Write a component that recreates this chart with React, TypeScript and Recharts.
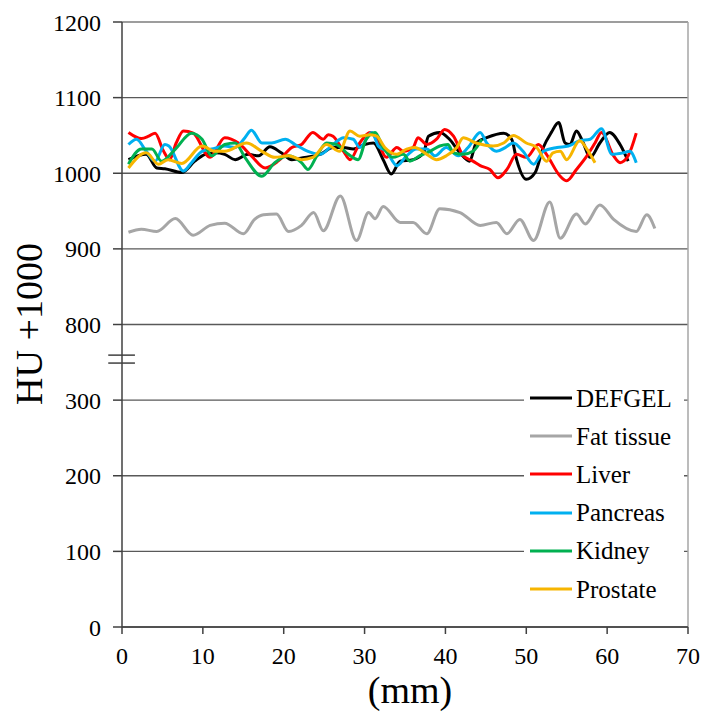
import { LineChart, Line, XAxis, YAxis, CartesianGrid, ReferenceLine, Legend, Label } from "recharts";

const SERIF = '"Liberation Serif", "Times New Roman", serif';

// [mm, HU+1000]
const defgel: [number, number][] = [
  [0.8, 1018], [3, 1025], [4.3, 1007], [5.3, 1006], [7.4, 1001], [9, 1016], [10.3, 1025], [11.5, 1027],
  [12.7, 1025], [14, 1018], [15.6, 1025], [16.9, 1023], [18.3, 1035], [19.7, 1027], [21, 1018], [22.6, 1021],
  [24.5, 1025], [26.1, 1034], [27.4, 1034], [28.6, 1032], [30, 1038], [31.1, 1040], [32.3, 1018], [33.3, 999],
  [34.4, 1016], [36, 1018], [37.3, 1027], [37.9, 1049], [39.3, 1054], [40.5, 1045], [41.8, 1027], [43, 1016],
  [43.8, 1040], [45.1, 1047], [47.2, 1053], [48.2, 1045], [48.8, 1018], [50, 992], [51.1, 1001], [52.1, 1034],
  [53.1, 1054], [54, 1067], [54.8, 1040], [55.4, 1038], [56.2, 1056], [57.05, 1040], [57.9, 1021], [59.1, 1040],
  [60.3, 1054], [61.6, 1038], [62.6, 1016],
];

const fatTissue: [number, number][] = [
  [0.8, 922], [2.4, 926], [4.3, 923], [6.6, 940], [8.8, 918], [10.9, 931], [12.7, 934], [15, 920],
  [16.4, 939], [17.5, 945], [19.1, 946], [20.6, 923], [22.2, 931], [23.7, 948], [24.9, 924], [27, 970],
  [29, 911], [30.5, 948], [31.3, 940], [32.3, 956], [34.4, 935], [36, 935], [37.7, 920], [39.3, 953],
  [41.8, 948], [44.3, 931], [46.3, 935], [47.6, 920], [49.2, 939], [50.9, 911], [52.9, 962], [54.2, 914],
  [56.2, 946], [57.3, 933], [59.1, 958], [60.8, 939], [63.6, 923], [64.9, 945], [65.9, 927],
];

const liver: [number, number][] = [
  [0.8, 1054], [2.4, 1046], [3.3, 1049], [4.1, 1053], [5.1, 1030], [5.9, 1018], [6.7, 1040], [7.6, 1056],
  [8.8, 1053], [10.9, 1021], [12.7, 1047], [14.4, 1040], [16, 1023], [17.7, 1007], [19.3, 1016], [21, 1034],
  [22.2, 1038], [23.6, 1054], [24.9, 1045], [25.5, 1051], [26.1, 1049], [27.4, 1029], [28.2, 1018], [29.4, 1040],
  [30.7, 1054], [31.5, 1045], [32.7, 1021], [34, 1034], [34.8, 1029], [36, 1034], [36.6, 1047], [37.7, 1038],
  [38.9, 1045], [39.9, 1058], [41, 1049], [42.2, 1023], [43.4, 1016], [44.3, 1010], [45.5, 1005], [46.5, 994],
  [47.6, 1005], [48.8, 1025], [50, 1021], [51.5, 1038], [52.5, 1025], [54.2, 996], [55, 990], [56.2, 1005],
  [57.5, 1023], [58.5, 1040], [59.3, 1054], [60.8, 1023], [61.6, 1014], [62.6, 1023], [63.6, 1053],
];

const pancreas: [number, number][] = [
  [0.8, 1038], [1.8, 1045], [3, 1029], [4.1, 1016], [5.3, 1038], [5.8, 1036], [7.6, 1003], [8.6, 1014],
  [9.9, 1029], [11.1, 1032], [12.7, 1036], [14, 1034], [15.2, 1047], [16, 1057], [17.3, 1040], [18.5, 1040],
  [20.2, 1045], [21.4, 1038], [23, 1029], [24.5, 1025], [26.1, 1038], [27.4, 1047], [28.6, 1045], [29.4, 1034],
  [30.9, 1054], [31.7, 1036], [32.7, 1029], [34, 1010], [35.2, 1023], [36.4, 1032], [37.7, 1032], [38.7, 1023],
  [40.1, 1034], [41.6, 1023], [42.8, 1034], [44.3, 1054], [45.1, 1040], [46.3, 1029], [47.4, 1034], [48.4, 1040],
  [49.6, 1029], [50.9, 1012], [52.1, 1029], [53.8, 1034], [55.2, 1036], [56.6, 1043], [57.9, 1045], [59.3, 1059],
  [60.6, 1025], [62, 1027], [62.8, 1029], [63.6, 1014],
];

const kidney: [number, number][] = [
  [0.8, 1012], [2.4, 1032], [3.7, 1032], [4.9, 1016], [6.6, 1032], [8.6, 1053], [9.9, 1045], [11.1, 1023],
  [12.7, 1038], [14, 1040], [15.2, 1021], [17.3, 996], [18.9, 1014], [20.6, 1023], [22.2, 1014], [23, 1005],
  [24.1, 1023], [25.3, 1040], [26.5, 1038], [28, 1025], [29.2, 1018], [30.2, 1045], [31.3, 1054], [32.3, 1034],
  [33.5, 1021], [34.8, 1025], [35.6, 1016], [36.8, 1023], [38.1, 1029], [39.3, 1036], [40.3, 1038], [41, 1027],
  [42.2, 1025], [43.4, 1029], [44.5, 1045],
];

const prostate: [number, number][] = [
  [0.8, 1007], [3, 1027], [4.5, 1012], [5.7, 1018], [7.4, 1013], [9.9, 1036], [11.5, 1029], [12.7, 1029],
  [15.4, 1040], [17.3, 1029], [18.9, 1021], [20.6, 1023], [22.2, 1018], [23.6, 1021], [25.3, 1038], [26.9, 1029],
  [28.2, 1056], [29.4, 1049], [30.7, 1051], [31.5, 1049], [32.5, 1034], [34, 1025], [35.2, 1032], [36.2, 1034],
  [37.7, 1025], [38.9, 1018], [40.1, 1023], [41.4, 1034], [42.2, 1047], [43.8, 1040], [45.9, 1036], [47.2, 1040],
  [48.4, 1050], [50, 1040], [51.3, 1034], [52.5, 1016], [53.3, 1027], [54.2, 1029], [55, 1018], [56.6, 1043],
  [57.5, 1032], [58.5, 1014],
];

const seriesNames = ["DEFGEL", "Fat tissue", "Liver", "Pancreas", "Kidney", "Prostate"];
const seriesColors = ["#000000", "#a6a6a6", "#ff0000", "#00b0f0", "#00b050", "#f7b500"];
const seriesData = [defgel, fatTissue, liver, pancreas, kidney, prostate];

const xTicks = [0, 10, 20, 30, 40, 50, 60, 70];
// broken axis: 0-300 shown as is, 800-1200 shifted down by 400
const BREAK_SHIFT = 400;
const yTicks = [0, 100, 200, 300, 800, 900, 1000, 1100, 1200];

const toAxis = (v: number) => (v >= 800 ? v - BREAK_SHIFT : v);
const fromAxis = (v: number) => (v > 300 ? v + BREAK_SHIFT : v);

const lines = seriesData.map((pts) => pts.map(([x, y]) => ({ x, y: toAxis(y) })));

const tickFont = { fontFamily: SERIF, fontSize: 24, fill: "#000" };

function LegendBox() {
  return (
    <div style={{ background: "#fff", width: 160 }}>
      {seriesNames.map((name, i) => (
        <div key={name} style={{ display: "flex", alignItems: "center", height: 38.2 }}>
          <svg width={48} height={6} style={{ display: "block" }}>
            <line x1={6} y1={3} x2={48} y2={3} stroke={seriesColors[i]} strokeWidth={3} />
          </svg>
          <span style={{ fontFamily: SERIF, fontSize: 25, lineHeight: 1, marginLeft: 4, color: "#000" }}>{name}</span>
        </div>
      ))}
    </div>
  );
}

export default function App() {
  return (
    <div style={{ position: "absolute", left: 0, top: 0 }}>
      <LineChart width={705} height={713} margin={{ top: 22, right: 17, bottom: 56, left: 62 }}>
        <CartesianGrid vertical={false} stroke="#595959" strokeWidth={1.3} />
        <XAxis
          type="number"
          dataKey="x"
          domain={[0, 70]}
          ticks={xTicks}
          tick={tickFont}
          tickSize={7}
          tickMargin={13}
          height={30}
          stroke="#404040"
          strokeWidth={1.5}
          allowDuplicatedCategory={false}
        >
          <Label
            content={() => (
              <text x={410} y={703} textAnchor="middle" fontFamily={SERIF} fontSize={38} fill="#000">
                (mm)
              </text>
            )}
          />
        </XAxis>
        <YAxis
          type="number"
          domain={[0, 800]}
          ticks={yTicks.map(toAxis)}
          tickFormatter={(v: number) => String(fromAxis(v))}
          tick={tickFont}
          tickSize={9}
          tickMargin={12}
          width={60}
          stroke="#404040"
          strokeWidth={1.5}
        >
          <Label
            content={() => (
              <text
                x={42}
                y={324}
                textAnchor="middle"
                fontFamily={SERIF}
                fontSize={38}
                fill="#000"
                transform="rotate(-90 42 324)"
              >
                HU +1000
              </text>
            )}
          />
        </YAxis>
        <ReferenceLine y={800} stroke="#a6a6a6" strokeWidth={1.5} />
        <ReferenceLine x={70} stroke="#a6a6a6" strokeWidth={1.5} />
        <ReferenceLine segment={[{ x: -1.7, y: 359.5 }, { x: 1.6, y: 359.5 }]} stroke="#404040" strokeWidth={1.5} ifOverflow="visible" />
        <ReferenceLine segment={[{ x: -1.7, y: 349 }, { x: 1.6, y: 349 }]} stroke="#404040" strokeWidth={1.5} ifOverflow="visible" />
        {lines.map((data, i) => (
          <Line
            key={seriesNames[i]}
            data={data}
            dataKey="y"
            name={seriesNames[i]}
            type="monotone"
            stroke={seriesColors[i]}
            strokeWidth={3}
            dot={false}
            activeDot={false}
            isAnimationActive={false}
          />
        ))}
        <Legend
          layout="vertical"
          align="center"
          verticalAlign="middle"
          content={() => <LegendBox />}
          wrapperStyle={{ left: 524, top: 379, width: 160, height: 229, background: "#fff" }}
        />
      </LineChart>
    </div>
  );
}
